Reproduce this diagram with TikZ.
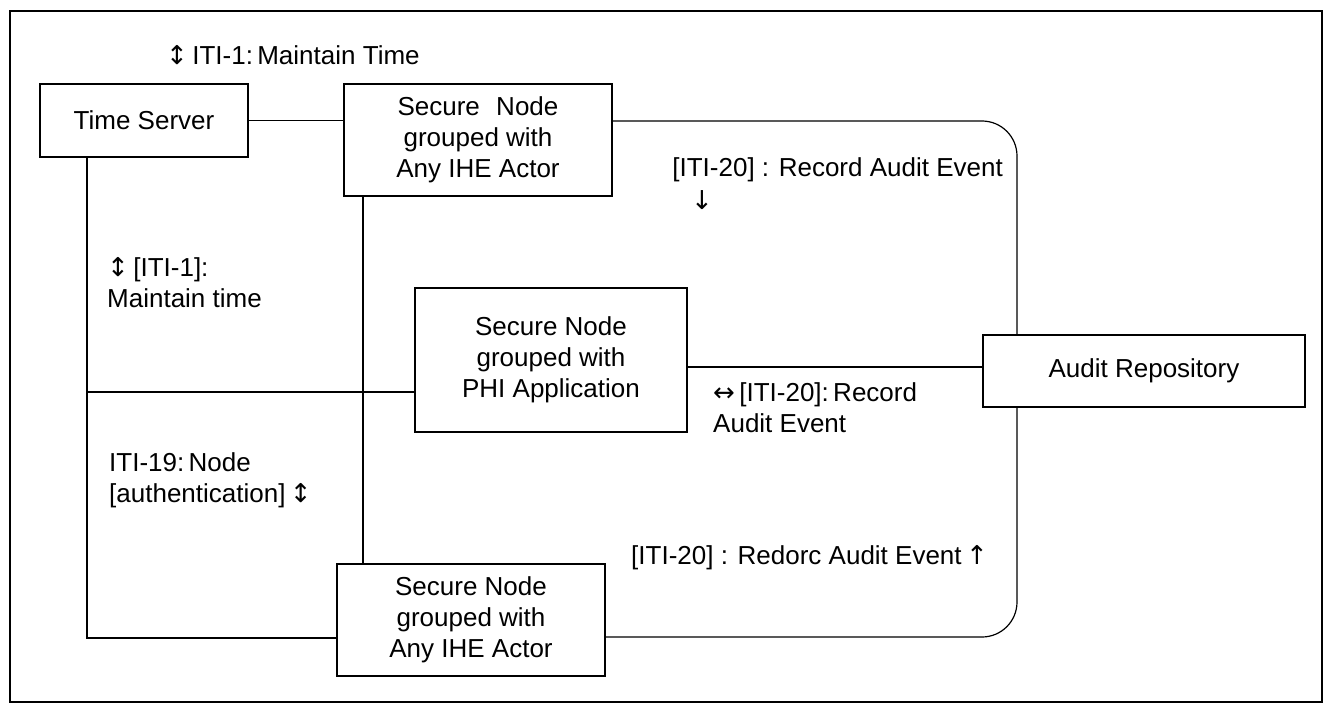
\documentclass[tikz,border=0pt]{standalone}
\usepackage{fontspec}
\setmainfont{Liberation Sans}
\newfontfamily\arr{DejaVu Sans}
\begin{document}
\begin{tikzpicture}[x=1pt,y=-1pt,
  every node/.style={font=\fontsize{26}{31}\selectfont},
  actor/.style={draw,line width=1.5pt,inner sep=0pt,align=center},
  link/.style={line width=1.2pt},
  lbl/.style={inner sep=0pt,align=left}]
\useasboundingbox (0,0) rectangle (1326,706);
% outer frame
\draw[line width=1.2pt] (10,11) rectangle (1322,702);

% actors
\node[actor,minimum width=208pt,minimum height=73pt] (ts) at (144,120.5) {Time Server};
\node[actor,minimum width=268pt,minimum height=112pt] (sn1) at (478,140) {Secure\hspace{0.35em} Node\\grouped with\\Any IHE Actor};
\node[actor,minimum width=272pt,minimum height=144pt] (phi) at (551,360) {Secure Node\\grouped with\\PHI Application};
\node[actor,minimum width=322pt,minimum height=72pt] (ar) at (1144,371) {Audit Repository};
\node[actor,minimum width=268pt,minimum height=112pt] (sn2) at (471,620) {Secure Node\\grouped with\\Any IHE Actor};

% routing points
\coordinate (trc) at (1017,121);
\coordinate (brc) at (1017,637);
\coordinate (blc) at (87,638);
\coordinate (ml) at (87,392);
\coordinate (vx) at (363,0);
\coordinate (pr) at (0,367);

% connectors
\draw[link] (ts.east) -- (ts.east -| sn1.west);
\draw[link,rounded corners=35pt] (sn1.east |- trc) -- (trc) -- (trc |- ar.north);
\draw[link,rounded corners=35pt] (brc |- ar.south) -- (brc) -- (brc -| sn2.east);
\draw[link] (blc |- ts.south) -- (blc) -- (blc -| sn2.west);
\draw[link] (ml) -- (ml -| phi.west);
\draw[link] (vx |- sn1.south) -- (vx |- sn2.north);
\draw[link] (pr -| phi.east) -- (pr -| ar.west);

% transaction labels
\node[lbl,anchor=west] (t1) at (166,55) {{\arr ↕}\,ITI-1:\,Maintain Time};
\node[lbl,anchor=east] (t2) at (1003,170) {[ITI-20] : Record Audit Event};
\node[lbl] (t2a) at (702,200) {{\arr ↓}};
\node[lbl,anchor=west] (t3) at (713,407.5) {{\arr ↔}\,[ITI-20]:\,Record\\Audit Event};
\node[lbl,anchor=east] (t4) at (988,558) {[ITI-20] : Redorc Audit Event\,{\arr ↑}};
\node[lbl,anchor=west] (t5) at (107,283) {{\arr ↕}\,[ITI-1]:\\Maintain time};
\node[lbl,anchor=west] (t6) at (109,480.5) {ITI-19:\,Node\\{}[authentication]\,{\arr ↕}};
\end{tikzpicture}
\end{document}
